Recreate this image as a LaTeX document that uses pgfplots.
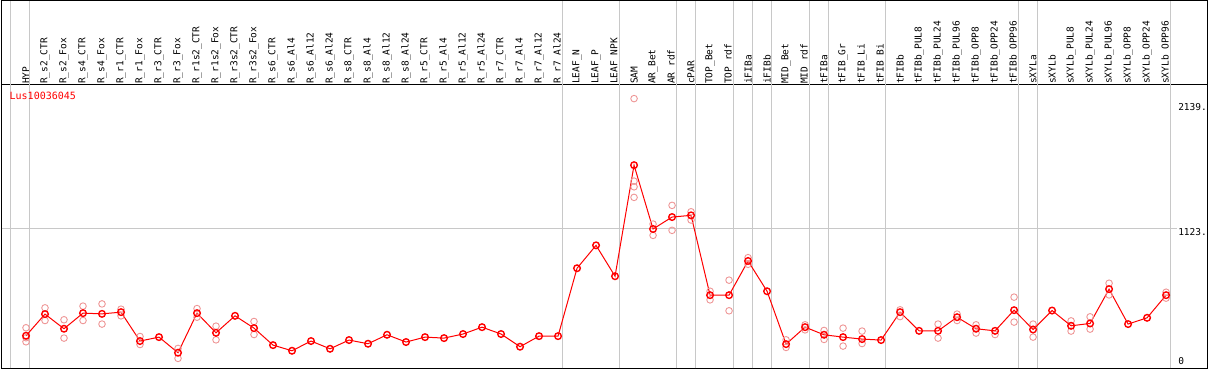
\documentclass[border=0pt]{standalone}
\usepackage{fontspec}
\setmonofont{DejaVu Sans Mono}
\usepackage{pgfplots}
\pgfplotsset{compat=1.18}
\definecolor{repred}{RGB}{238,150,150}
\definecolor{gridgray}{RGB}{200,200,200}
\definecolor{mainred}{RGB}{255,0,0}
\newcommand{\lbl}{\ttfamily\fontsize{9.5bp}{11bp}\selectfont}
\begin{document}
\begin{tikzpicture}
\begin{axis}[
  scale only axis, width=1206bp, height=283.3bp,
  xmin=-0.2895, xmax=63.18, ymin=-14.6, ymax=2288.6,
  axis line style={black, line width=1bp},
  xtick={1,...,61},
  xticklabels={HYP, R\_s2\_CTR, R\_s2\_Fox, R\_s4\_CTR, R\_s4\_Fox, R\_r1\_CTR, R\_r1\_Fox, R\_r3\_CTR, R\_r3\_Fox, R\_r1s2\_CTR, R\_r1s2\_Fox, R\_r3s2\_CTR, R\_r3s2\_Fox, R\_s6\_CTR, R\_s6\_Al4, R\_s6\_Al12, R\_s6\_Al24, R\_s8\_CTR, R\_s8\_Al4, R\_s8\_Al12, R\_s8\_Al24, R\_r5\_CTR, R\_r5\_Al4, R\_r5\_Al12, R\_r5\_Al24, R\_r7\_CTR, R\_r7\_Al4, R\_r7\_Al12, R\_r7\_Al24, LEAF\_N, LEAF\_P, LEAF\_NPK, SAM, AR\_Bet, AR\_rdf, cPAR, TOP\_Bet, TOP\_rdf, iFIBa, iFIBb, MID\_Bet, MID\_rdf, tFIBa, tFIB\_Gr, tFIB\_Li, tFIB\_Bi, tFIBb, tFIBb\_PUL8, tFIBb\_PUL24, tFIBb\_PUL96, tFIBb\_OPP8, tFIBb\_OPP24, tFIBb\_OPP96, sXYLa, sXYLb, sXYLb\_PUL8, sXYLb\_PUL24, sXYLb\_PUL96, sXYLb\_OPP8, sXYLb\_OPP24, sXYLb\_OPP96},
  xticklabel pos=upper,
  major tick length=0pt,
  xticklabel style={rotate=90, anchor=west, inner sep=0pt, font=\lbl, xshift=-1bp},
  xticklabel shift=2bp,
  ytick=\empty,
  clip=false,
]
% grid
\draw[gridgray, line width=1bp] (axis cs:-0.2895,1123) -- (axis cs:61.6,1123);
\pgfplotsinvokeforeach{0.21,1.21,29.21,32.21,35.21,36.21,38.21,39.21,40.21,42.21,43.21,46.21,53.21,54.21,61.21}{
  \draw[gridgray, line width=1bp] (axis cs:#1,-14.6) -- (axis cs:#1,2976);
}
% frame above plot area
\draw[black, line width=1bp] (rel axis cs:0,1) -- ([yshift=84.5bp]rel axis cs:0,1) -- ([yshift=84.5bp]rel axis cs:1,1) -- (rel axis cs:1,1);
% replicates
\addplot[only marks, mark=o, mark size=3.3bp, color=repred, mark options={line width=0.9bp}] coordinates {
(1,315) (1,234) (1,201)
(2,477) (2,374)
(3,380) (3,231)
(4,491) (4,374)
(5,509) (5,345)
(6,466) (6,412)
(7,244) (7,179)
(9,147) (9,66)
(10,471) (10,401)
(11,328) (11,217)
(13,366) (13,260)
(33,2178) (33,1507) (33,1461) (33,1375)
(34,1158) (34,1066)
(35,1310) (35,1107)
(36,1258) (36,1191)
(37,612) (37,542)
(38,702) (38,453)
(39,885) (39,831)
(41,217) (41,155)
(42,339) (42,298)
(43,293) (43,220)
(44,312) (44,166)
(45,288) (45,187)
(47,461) (47,406)
(49,345) (49,231)
(50,426) (50,374)
(51,339) (51,272)
(52,260)
(53,564) (53,361)
(54,345) (54,239)
(56,371) (56,288)
(57,404) (57,304)
(58,677) (58,582)
(61,604) (61,556)
};
% mean line
\addplot[color=mainred, line width=1bp, mark=o, mark size=3.3bp, mark options={line width=1.4bp}] coordinates {
(1,250) (2,426) (3,307) (4,434) (5,428) (6,442) (7,207) (8,239) (9,112) (10,434)
(11,274) (12,412) (13,312) (14,174) (15,128) (16,207) (17,144) (18,215) (19,185) (20,258)
(21,199) (22,239) (23,231) (24,264) (25,320) (26,264) (27,161) (28,247) (29,247) (30,799)
(31,985) (32,734) (33,1637) (34,1118) (35,1215) (36,1229) (37,580) (38,580) (39,858) (40,612)
(41,182) (42,320) (43,258) (44,239) (45,223) (46,215) (47,442) (48,290) (49,290) (50,401)
(51,307) (52,290) (53,458) (54,301) (55,455) (56,331) (57,350) (58,629) (59,345) (60,396)
(61,580)
};
% texts
\node[anchor=base west, inner sep=0pt, text=mainred, font=\ttfamily\fontsize{10bp}{12bp}\selectfont] at (axis cs:0.13,2167) {Lus10036045};
\node[anchor=north west, inner sep=0pt, font=\lbl] at (axis cs:61.63,2139) {2139.};
\node[anchor=north west, inner sep=0pt, font=\lbl] at (axis cs:61.63,1123) {1123.};
\node[anchor=south west, inner sep=0pt, font=\lbl] at (axis cs:61.63,10) {0};
\coordinate (BL) at (rel axis cs:0,0);
\coordinate (TR) at (rel axis cs:1,1);
\end{axis}
\pgfresetboundingbox
\path ([xshift=-1.5bp,yshift=-1.7bp]BL) rectangle ([xshift=1.5bp,yshift=85bp]TR);
\end{tikzpicture}
\end{document}
